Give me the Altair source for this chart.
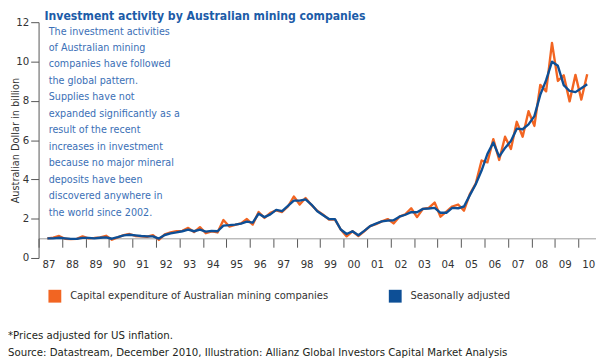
import altair as alt
import pandas as pd

FONT = "DejaVu Sans Condensed, Liberation Sans Narrow, sans-serif"

TITLE = "Investment activity by Australian mining companies"
Y_TITLE = "Australian Dollar in billion"
SERIES = ["Capital expenditure of Australian mining companies", "Seasonally adjusted"]
COLORS = ["#f26522", "#0d4f96"]

NOTE_LINES = [
    "The investment activities",
    "of Australian mining",
    "companies have followed",
    "the global pattern.",
    "Supplies have not",
    "expanded significantly as a",
    "result of the recent",
    "increases in investment",
    "because no major mineral",
    "deposits have been",
    "discovered anywhere in",
    "the world since 2002.",
]
FOOT_LINES = [
    "*Prices adjusted for US inflation.",
    "Source: Datastream, December 2010, Illustration: Allianz Global Investors Capital Market Analysis",
]

YEAR_TICKS = list(range(1987, 2011))
Y_TICKS = [0, 2, 4, 6, 8, 10, 12]

# quarterly observations, 1987 Q2 .. 2010 Q2
QUARTERS = [(1987, q) for q in (2, 3, 4)] + [(y, q) for y in range(1988, 2010) for q in (1, 2, 3, 4)] + [(2010, 1), (2010, 2)]

CAPEX = [
    1.00, 1.03, 1.12,
    0.98, 0.96, 0.97, 1.10,
    1.00, 1.02, 1.05, 1.13,
    0.93, 1.05, 1.16, 1.22,
    1.12, 1.10, 1.08, 1.16,
    0.92, 1.20, 1.30, 1.36,
    1.38, 1.53, 1.32, 1.57,
    1.26, 1.36, 1.30, 1.93,
    1.60, 1.68, 1.76, 1.98,
    1.70, 2.34, 2.04, 2.30,
    2.42, 2.34, 2.62, 3.13,
    2.72, 3.05, 2.70, 2.40,
    2.20, 1.95, 1.96, 1.45,
    1.10, 1.36, 1.12, 1.36,
    1.62, 1.72, 1.86, 1.98,
    1.76, 2.10, 2.22, 2.53,
    2.08, 2.50, 2.55, 2.82,
    2.10, 2.36, 2.62, 2.72,
    2.41, 3.25, 3.78, 4.96,
    4.87, 6.05, 4.99, 6.17,
    5.55, 6.93, 6.17, 7.47,
    6.72, 8.81, 8.48, 10.95,
    9.01, 9.30, 7.97, 9.32,
    8.06, 9.35,
]
ADJUSTED = [
    1.00, 1.00, 1.03,
    1.00, 0.97, 0.97, 1.02,
    1.02, 1.00, 1.03, 1.05,
    0.98, 1.06, 1.15, 1.18,
    1.15, 1.12, 1.10, 1.10,
    0.99, 1.17, 1.25, 1.30,
    1.36, 1.44, 1.36, 1.44,
    1.34, 1.38, 1.36, 1.65,
    1.67, 1.70, 1.75, 1.85,
    1.80, 2.25, 2.08, 2.22,
    2.45, 2.38, 2.65, 2.92,
    2.92, 2.98, 2.72, 2.38,
    2.18, 1.98, 1.98, 1.45,
    1.22, 1.36, 1.16, 1.38,
    1.62, 1.75, 1.86, 1.90,
    1.92, 2.10, 2.20, 2.33,
    2.33, 2.50, 2.52, 2.55,
    2.30, 2.30, 2.55, 2.53,
    2.62, 3.20, 3.75, 4.45,
    5.30, 5.88, 5.16, 5.60,
    5.95, 6.58, 6.55, 6.80,
    7.22, 8.30, 9.05, 9.99,
    9.78, 8.80, 8.50, 8.44,
    8.64, 8.84,
]

t = [y + (q - 0.5) / 4 for (y, q) in QUARTERS]
df = pd.DataFrame({
    "t": t * 2,
    "value": CAPEX + ADJUSTED,
    "series": [SERIES[0]] * len(t) + [SERIES[1]] * len(t),
})

W, H = 565, 239
X_DOMAIN = [1987, 2010.75]
Y_DOMAIN = [0, 12]
px_per_unit = H / (Y_DOMAIN[1] - Y_DOMAIN[0])

lines = alt.Chart(df).mark_line(strokeWidth=2.4, strokeJoin="round").encode(
    x=alt.X("t:Q",
            scale=alt.Scale(domain=X_DOMAIN, nice=False, zero=False),
            axis=alt.Axis(values=YEAR_TICKS, labelExpr="slice(toString(datum.value), 2)",
                          labelOffset=10, labelFlush=False, labelOverlap=False, labelBound=False,
                          tickSize=9, tickColor="#555555", domainColor="#9a9a9a",
                          offset=-px_per_unit, labelPadding=12, title=None, grid=False,
                          labelFont=FONT, labelFontSize=11.5, labelColor="#333333")),
    y=alt.Y("value:Q",
            scale=alt.Scale(domain=Y_DOMAIN, nice=False),
            axis=alt.Axis(values=Y_TICKS, tickSize=8, tickColor="#555555", domainColor="#555555",
                          grid=False, labelFont=FONT, labelFontSize=11.5, labelColor="#333333",
                          labelPadding=2, labelOverlap=False, title=Y_TITLE, titleFont=FONT,
                          titleFontSize=11, titleFontWeight="normal", titleColor="#333333",
                          titleX=-23.5, titleY=H / 2, titleAngle=270, titleAlign="center",
                          titleBaseline="middle")),
    color=alt.Color("series:N",
                    scale=alt.Scale(domain=SERIES, range=COLORS),
                    legend=alt.Legend(orient="none", legendX=10, legendY=271, direction="horizontal",
                                      title=None, symbolType="square", symbolSize=16,
                                      symbolStrokeWidth=9, labelFont=FONT, labelFontSize=11.2,
                                      labelColor="#333333", labelOffset=9, labelLimit=0,
                                      columnPadding=47)),
)

note = alt.Chart(alt.Data(values=[{"k": 1}])).mark_text(
    align="left", baseline="top", font=FONT, fontSize=10.8, lineHeight=16.7, color="#3b6fb6"
).encode(x=alt.value(10.3), y=alt.value(3.5), text=alt.value(NOTE_LINES))

head = alt.Chart(alt.Data(values=[{"k": 1}])).mark_text(
    align="left", baseline="alphabetic", font=FONT, fontSize=12.3, fontWeight="bold", color="#1c5ca8"
).encode(x=alt.value(6), y=alt.value(-2), text=alt.value(TITLE))

foot = alt.Chart(alt.Data(values=[{"k": 1}])).mark_text(
    align="left", baseline="top", font=FONT, fontSize=11.5, lineHeight=16.7, color="#231f20"
).encode(x=alt.value(-31), y=alt.value(312.5), text=alt.value(FOOT_LINES))

chart = alt.layer(lines, note, head, foot).properties(
    width=W, height=H,
    autosize=alt.AutoSizeParams(type="none"),
    padding={"left": 31, "top": 12, "right": 0, "bottom": 99},
).configure_view(stroke=None)

chart.save("out.html", embed_options={"renderer": "svg", "actions": False})
